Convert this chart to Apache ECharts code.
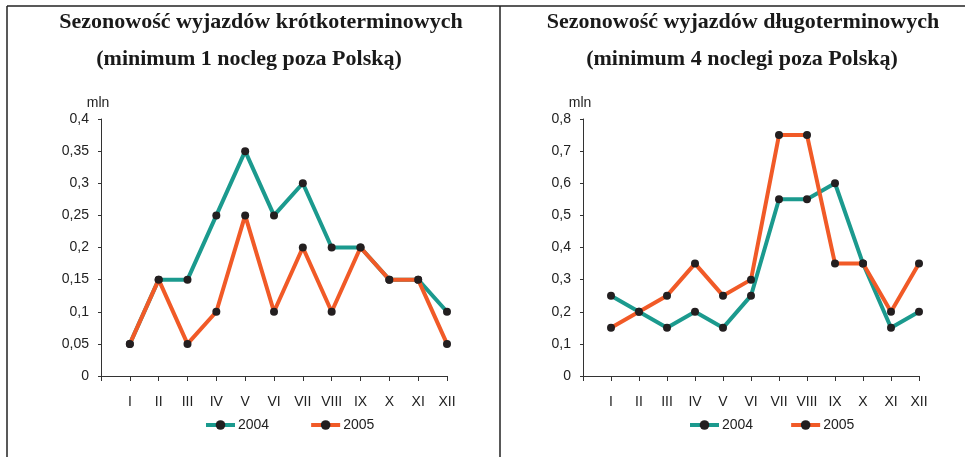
<!DOCTYPE html>
<html>
<head>
<meta charset="utf-8">
<script src="https://cdn.jsdelivr.net/npm/echarts@6/dist/echarts.min.js"></script>
<style>
  html, body { margin: 0; padding: 0; background: #fff; }
  #chart { width: 965px; height: 457px; }
</style>
</head>
<body>
<div id="chart"></div>
<script>
// miesiące (oś X)
const months = ['I', 'II', 'III', 'IV', 'V', 'VI', 'VII', 'VIII', 'IX', 'X', 'XI', 'XII']

// wyjazdy krótkoterminowe, mln
const short2004 = [0.05, 0.15, 0.15, 0.25, 0.35, 0.25, 0.3, 0.2, 0.2, 0.15, 0.15, 0.1]
const short2005 = [0.05, 0.15, 0.05, 0.1, 0.25, 0.1, 0.2, 0.1, 0.2, 0.15, 0.15, 0.05]

// wyjazdy długoterminowe, mln
const long2004 = [0.25, 0.2, 0.15, 0.2, 0.15, 0.25, 0.55, 0.55, 0.6, 0.35, 0.15, 0.2]
const long2005 = [0.15, 0.2, 0.25, 0.35, 0.25, 0.3, 0.75, 0.75, 0.35, 0.35, 0.2, 0.35]

const years = ['2004', '2005']
const yTicksLeft = [0, 0.05, 0.1, 0.15, 0.2, 0.25, 0.3, 0.35, 0.4]
const yTicksRight = [0, 0.1, 0.2, 0.3, 0.4, 0.5, 0.6, 0.7, 0.8]

const TEAL = '#1b9a8e'
const ORANGE = '#f15a27'
const DOT = '#231f20'
const AXIS = '#333'
const FONT = "'Liberation Sans', Arial, sans-serif"

const chart = echarts.init(document.getElementById('chart'))

// punkty na osi wartości: I = 1 ... XII = 12, 0 to oś Y
const toPoints = arr => arr.map((v, i) => [i + 1, v])
const fmt = v => String(+v.toFixed(2)).replace('.', ',')

function xAxisCfg(gridIndex) {
  return {
    type: 'value',
    gridIndex,
    min: 0,
    max: months.length,
    interval: 1,
    splitLine: { show: false },
    axisLine: { lineStyle: { color: AXIS, width: 1 } },
    axisTick: { length: 5, lineStyle: { color: AXIS } },
    axisLabel: {
      margin: 19,
      fontFamily: FONT,
      fontSize: 14,
      color: '#222',
      formatter: v => months[v - 1] || '',
    },
  }
}

function yAxisCfg(gridIndex, ticks) {
  return {
    type: 'value',
    gridIndex,
    min: 0,
    max: ticks[ticks.length - 1],
    interval: ticks[1] - ticks[0],
    name: 'mln',
    nameLocation: 'end',
    nameGap: 9,
    nameTextStyle: { fontFamily: FONT, fontSize: 14, color: '#222', padding: [0, 6, 0, 0] },
    splitLine: { show: false },
    axisLine: { show: true, lineStyle: { color: AXIS, width: 1 } },
    axisTick: { show: true, length: 3, lineStyle: { color: AXIS } },
    axisLabel: {
      margin: 12,
      fontFamily: FONT,
      fontSize: 14,
      color: '#222',
      formatter: fmt,
    },
  }
}

function lineSeries(name, data, color, idx) {
  return {
    name,
    type: 'line',
    xAxisIndex: idx,
    yAxisIndex: idx,
    data: toPoints(data),
    symbol: 'circle',
    symbolSize: 8,
    lineStyle: { color, width: 4 },
    itemStyle: { color: DOT },
    color,
    z: name === '2005' ? 3 : 2,
  }
}

function legendCfg(left, gap) {
  return {
    data: years.map(y => ({ name: y })),
    left,
    top: 418,
    padding: 0,
    itemWidth: 29,
    itemHeight: 12,
    itemGap: gap,
    lineStyle: { width: 4 },
    textStyle: { fontFamily: FONT, fontSize: 14, color: '#222', padding: [0, 0, 0, -2] },
  }
}

const titleStyle = { fontFamily: "'Liberation Serif', 'Times New Roman', serif", fontSize: 22, fontWeight: 'bold', color: '#1a1a1a' }

const option = {
  animation: false,
  backgroundColor: '#fff',
  title: [
    { text: 'Sezonowość wyjazdów krótkoterminowych', left: 256, top: 6, textAlign: 'center', textStyle: titleStyle },
    { text: '(minimum 1 nocleg poza Polską)', left: 244, top: 43, textAlign: 'center', textStyle: titleStyle },
    { text: 'Sezonowość wyjazdów długoterminowych', left: 738, top: 6, textAlign: 'center', textStyle: titleStyle },
    { text: '(minimum 4 noclegi poza Polską)', left: 737, top: 43, textAlign: 'center', textStyle: titleStyle },
  ],
  legend: [legendCfg(204, 40), legendCfg(688, 36)],
  grid: [
    { left: 101, top: 119, width: 346, height: 257 },
    { left: 583, top: 119, width: 336, height: 257 },
  ],
  xAxis: [xAxisCfg(0), xAxisCfg(1)],
  yAxis: [yAxisCfg(0, yTicksLeft), yAxisCfg(1, yTicksRight)],
  series: [
    lineSeries('2004', short2004, TEAL, 0),
    lineSeries('2005', short2005, ORANGE, 0),
    lineSeries('2004', long2004, TEAL, 1),
    lineSeries('2005', long2005, ORANGE, 1),
  ],
  graphic: [
    { type: 'line', shape: { x1: 7, y1: 6, x2: 965, y2: 6 }, style: { stroke: '#222', lineWidth: 1.5 } },
    { type: 'line', shape: { x1: 7, y1: 6, x2: 7, y2: 457 }, style: { stroke: '#222', lineWidth: 1.5 } },
    { type: 'line', shape: { x1: 500, y1: 6, x2: 500, y2: 457 }, style: { stroke: '#222', lineWidth: 1.5 } },
  ],
}

chart.setOption(option)
</script>
</body>
</html>
